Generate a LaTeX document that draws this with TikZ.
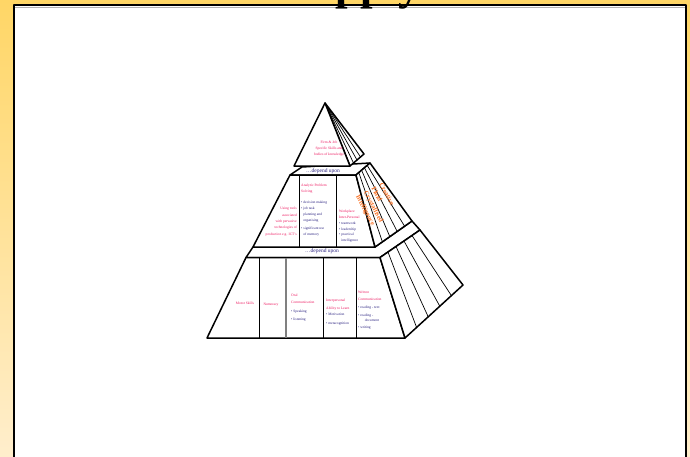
\documentclass[tikz,border=0pt]{standalone}
\usepackage{fontspec}
\setmainfont{Liberation Serif}
\usetikzlibrary{calc}
\definecolor{slidegold}{RGB}{255,214,102}
\definecolor{slidecream}{RGB}{255,238,204}
\definecolor{skillred}{RGB}{238,24,96}
\definecolor{skillnavy}{RGB}{44,36,130}
\definecolor{skillorange}{RGB}{250,112,34}

\tikzset{
  tier/.style={draw,fill=white,line width=1.5pt},
  divider/.style={line width=0.7pt},
  lbl/.style={inner sep=0pt,text=skillred,align=left,font=\fontsize{3.6}{6}\selectfont},
  pts/.style={lbl,text=skillnavy},
  intel/.style={inner sep=0pt,text=skillorange,align=left,rotate=-62,font=\bfseries\fontsize{6.8}{8.8}\selectfont},
  dep/.style={inner sep=0pt,text=skillnavy,font=\fontsize{5.5}{6}\selectfont}
}

\begin{document}
\begin{tikzpicture}[x=1pt,y=-1pt,line join=round]
  \useasboundingbox (0,0) rectangle (690,456);
  % slide
  \shade[top color=slidegold,bottom color=slidecream] (0,0) rectangle (690,456);
  \fill[white] (14,5) rectangle (686,470);
  \draw[gray!60,line width=1pt] (15,7) -- (685,7);
  \draw[line width=1.8pt] (14,5) rectangle (686,470);

  % bottom tier
  \coordinate (bfl) at (207,338);
  \coordinate (bfr) at (405,338);
  \coordinate (btl) at (246,257.5);
  \coordinate (btr) at (380,257.5);
  \coordinate (bbk) at (420,230);
  \coordinate (bsr) at (463,285);
  \filldraw[tier] (btl) -- (253,247) -- (375,247) -- (412,221) -- (bbk) -- (btr) -- cycle;
  \filldraw[tier] (btl) -- (btr) -- (bfr) -- (bfl) -- cycle;
  \filldraw[tier] (btr) -- (bbk) -- (bsr) -- (bfr) -- cycle;
  \foreach \f in {0.2,0.4,0.6,0.8}
    \draw[divider] ($(btr)!\f!(bbk)$) -- ($(bfr)!\f!(bsr)$);
  \foreach \x in {259,323,356}
    \draw[divider] (\x,257.5) -- (\x,338);
  \draw[gray,line width=1.2pt] (286,257.5) -- (286,338);

  % middle tier
  \coordinate (mtl) at (290,175);
  \coordinate (mtr) at (356,175);
  \coordinate (mbl) at (253,247);
  \coordinate (mbr) at (375,247);
  \coordinate (mbk) at (370,163);
  \coordinate (msr) at (412,221);
  \filldraw[tier] (mtl) -- (302,167) -- (mbk) -- (mtr) -- cycle;
  \filldraw[tier] (mtl) -- (mtr) -- (mbr) -- (mbl) -- cycle;
  \filldraw[tier] (mtr) -- (mbk) -- (msr) -- (mbr) -- cycle;
  \foreach \f in {0.2,0.4,0.6,0.8}
    \draw[divider] ($(mtr)!\f!(mbk)$) -- ($(mbr)!\f!(msr)$);
  \foreach \x in {299,336}
    \draw[divider] (\x,175) -- (\x,247);

  % top pyramid
  \coordinate (apex) at (325,103);
  \coordinate (pbl) at (294,166);
  \coordinate (pbr) at (350,166);
  \coordinate (pbk) at (364,154);
  \filldraw[tier] (apex) -- (pbr) -- (pbk) -- cycle;
  \filldraw[tier] (apex) -- (pbl) -- (pbr) -- cycle;
  \foreach \f in {0.25,0.5,0.75}
    \draw[divider] (apex) -- ($(pbr)!\f!(pbk)$);

  % labels
  \node[lbl,align=center] (firm) at (329,149) {Firm \& Job\\Specific Skills and\\bodies of knowledge};
  \node[dep] (dep1) at (323,171) {\dots depend upon};
  \node[dep] (dep2) at (322,251.5) {\dots depend upon};

  \node[lbl,align=right,anchor=north east,font=\fontsize{3.6}{6.4}\selectfont] (tools) at (297,207)
    {Using tools\\associated\\with pervasive\\technologies of\\production e.g. ICT's};
  \node[lbl,anchor=north west] (analytic) at (301,184) {Analytic Problem\\Solving};
  \node[pts,anchor=north west,font=\fontsize{3.6}{5.8}\selectfont] (analyticpts) at (301,201)
    {\textbullet\ decision making\\\textbullet\ job task\\\phantom{\textbullet}\ planning and\\\phantom{\textbullet}\ organising\\[3pt]\textbullet\ significant use\\\phantom{\textbullet}\ of memory};
  \node[lbl,anchor=north west] (workplace) at (339,210) {Workplace\\Inter-Personal};
  \node[pts,anchor=north west,font=\fontsize{3.6}{5.6}\selectfont] (workpts) at (339,222)
    {\textbullet\ teamwork\\\textbullet\ leadership\\\textbullet\ practical\\\phantom{\textbullet}\ intelligence};

  \node[intel] (intelligences) at (377,205) {Creative\\Fluid\\Crystallised\\Intelligence};

  \node[lbl] (motor) at (245,303) {Motor Skills};
  \node[lbl] (numeracy) at (271,305) {Numeracy};
  \node[lbl,anchor=north west,font=\fontsize{3.6}{6.7}\selectfont] (oral) at (291,294) {Oral\\Communication};
  \node[pts,anchor=north west,font=\fontsize{3.6}{8}\selectfont] (oralpts) at (291,310) {\textbullet\ Speaking\\\textbullet\ listening};
  \node[lbl,anchor=north west,font=\fontsize{3.6}{8}\selectfont] (interp) at (326,299) {Interpersonal\\Ability to Learn};
  \node[pts,anchor=north west,font=\fontsize{3.6}{9}\selectfont] (interppts) at (326,313) {\textbullet\ Motivation\\\textbullet\ metacognition};
  \node[lbl,anchor=north west,font=\fontsize{3.6}{7.3}\selectfont] (written) at (358,291) {Written\\Communication};
  \node[pts,anchor=north west,font=\fontsize{3.6}{5}\selectfont] (writtenpts) at (358,306)
    {\textbullet\ reading - text\\[2.5pt]\textbullet\ reading -\\\phantom{\textbullet\ rea}document\\[2.5pt]\textbullet\ writing};

  % title, mostly off the page
  \begin{scope}
    \clip (0,0) rectangle (690,456);
    \node[anchor=base west,inner sep=0pt,font=\bfseries\fontsize{45}{50}\selectfont] (title) at (169,-0.5) {Skills Supply};
  \end{scope}
\end{tikzpicture}
\end{document}
